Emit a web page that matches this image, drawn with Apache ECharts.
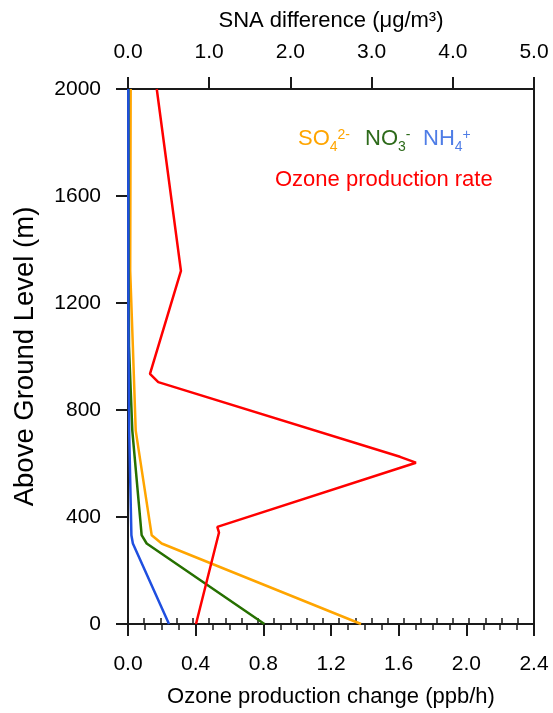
<!DOCTYPE html>
<html>
<head>
<meta charset="utf-8">
<script src="https://cdn.jsdelivr.net/npm/echarts@6/dist/echarts.min.js"></script>
<style>
html,body{margin:0;padding:0;background:#fff;}
#chart{width:553px;height:713px;}
</style>
</head>
<body>
<div id="chart"></div>
<script>
// Ozone production rate change (ppb/h), bottom axis
const o3Heights = [0, 342, 363, 603, 625, 904, 935, 1320, 2000];
const o3Values  = [0.402, 0.538, 0.528, 1.702, 1.608, 0.179, 0.130, 0.313, 0.17];

// SNA differences (ug/m3), top axis
const snaHeights = [0, 301, 332, 723, 1037, 1320, 2000];
const so4Values  = [2.87, 0.415, 0.292, 0.095, 0.06, 0.027, 0.033];
const no3Values  = [1.68, 0.23, 0.168, 0.053, 0.012, 0.008, 0.006];
const nh4Values  = [0.505, 0.06, 0.042, 0.014, 0.006, 0.004, 0.004];

// axis ticks
const bottomTicks = [0.0, 0.4, 0.8, 1.2, 1.6, 2.0, 2.4];
const topTicks = [0.0, 1.0, 2.0, 3.0, 4.0, 5.0];
const heightTicks = [0, 400, 800, 1200, 1600, 2000];

const FONT = "'Liberation Sans', Arial, Helvetica, sans-serif";
const AX = '#1a1a1a';

function pairs(xs, ys) { return xs.map((x, i) => [x, ys[i]]); }

const chart = echarts.init(document.getElementById('chart'), null, {renderer: 'canvas'});

const axisCommon = {
  axisLine: {show: true, onZero: false, lineStyle: {color: AX, width: 2}},
  splitLine: {show: false},
  axisLabel: {color: '#000', fontSize: 21, fontFamily: FONT}
};

function minorAxis(position, max, interval) {
  return {
    type: 'value', position: position, min: 0, max: max, interval: interval,
    axisLine: {show: false},
    axisTick: {show: true, inside: false, length: 6, lineStyle: {color: AX, width: 1.5}},
    axisLabel: {show: false}, splitLine: {show: false}
  };
}

const option = {
  backgroundColor: '#fff',
  animation: false,
  grid: {left: 128, right: 19, top: 89, bottom: 82, containLabel: false},
  xAxis: [
    Object.assign({}, axisCommon, {
      type: 'value', position: 'bottom',
      min: bottomTicks[0], max: bottomTicks[bottomTicks.length - 1], interval: 0.4,
      axisTick: {show: true, inside: false, length: 12, lineStyle: {color: AX, width: 2}},
      axisLabel: Object.assign({}, axisCommon.axisLabel, {margin: 30, formatter: v => v.toFixed(1)}),
      name: 'Ozone production change (ppb/h)', nameLocation: 'middle', nameGap: 62,
      nameTextStyle: {color: '#000', fontSize: 22, fontFamily: FONT}
    }),
    Object.assign({}, axisCommon, {
      type: 'value', position: 'top',
      min: topTicks[0], max: topTicks[topTicks.length - 1], interval: 1,
      axisTick: {show: true, inside: false, length: 12, lineStyle: {color: AX, width: 2}},
      axisLabel: Object.assign({}, axisCommon.axisLabel, {margin: 26, formatter: v => v.toFixed(1)}),
      name: 'SNA difference (μg/m³)', nameLocation: 'middle', nameGap: 57,
      nameTextStyle: {color: '#000', fontSize: 22, fontFamily: FONT}
    }),
    minorAxis('bottom', bottomTicks[bottomTicks.length - 1], 0.1),
    minorAxis('top', topTicks[topTicks.length - 1], 0.2)
  ],
  yAxis: [
    Object.assign({}, axisCommon, {
      type: 'value', position: 'left',
      min: heightTicks[0], max: heightTicks[heightTicks.length - 1], interval: 400,
      axisTick: {show: true, inside: false, length: 12, lineStyle: {color: AX, width: 2}},
      axisLabel: Object.assign({}, axisCommon.axisLabel, {margin: 27, formatter: v => String(v)}),
      name: 'Above Ground Level (m)', nameLocation: 'middle', nameGap: 89, nameRotate: 90,
      nameTextStyle: {color: '#000', fontSize: 27.5, fontFamily: FONT}
    }),
    {
      type: 'value', position: 'right',
      min: heightTicks[0], max: heightTicks[heightTicks.length - 1],
      axisLine: {show: true, onZero: false, lineStyle: {color: AX, width: 2}},
      axisTick: {show: false}, axisLabel: {show: false}, splitLine: {show: false}
    }
  ],
  series: [
    {
      name: 'SO4', type: 'line', xAxisIndex: 1, yAxisIndex: 0,
      data: pairs(so4Values, snaHeights), symbol: 'none',
      lineStyle: {color: '#FFA500', width: 2.5}, z: 3
    },
    {
      name: 'NO3', type: 'line', xAxisIndex: 1, yAxisIndex: 0,
      data: pairs(no3Values, snaHeights), symbol: 'none',
      lineStyle: {color: '#267000', width: 2.5}, z: 4
    },
    {
      name: 'NH4', type: 'line', xAxisIndex: 1, yAxisIndex: 0,
      data: pairs(nh4Values, snaHeights), symbol: 'none',
      lineStyle: {color: '#1F4FE0', width: 2.5}, z: 5
    },
    {
      name: 'Ozone', type: 'line', xAxisIndex: 0, yAxisIndex: 0,
      data: pairs(o3Values, o3Heights), symbol: 'none',
      lineStyle: {color: '#FF0000', width: 2.5}, z: 6
    }
  ],
  graphic: [
    {
      type: 'text', x: 298, y: 139,
      style: {
        text: '{m|SO}{s|4}{p|2-}', verticalAlign: 'middle', align: 'left',
        rich: {
          m: {fontSize: 22, fontFamily: FONT, fill: '#FFA500', lineHeight: 30, verticalAlign: 'middle'},
          s: {fontSize: 14, fontFamily: FONT, fill: '#FFA500', lineHeight: 14, verticalAlign: 'bottom'},
          p: {fontSize: 14, fontFamily: FONT, fill: '#FFA500', lineHeight: 14, verticalAlign: 'top', padding: [4, 0, 0, 0]}
        }
      }
    },
    {
      type: 'text', x: 365, y: 139,
      style: {
        text: '{m|NO}{s|3}{p|-}', verticalAlign: 'middle', align: 'left',
        rich: {
          m: {fontSize: 22, fontFamily: FONT, fill: '#2D6A1A', lineHeight: 30, verticalAlign: 'middle'},
          s: {fontSize: 14, fontFamily: FONT, fill: '#2D6A1A', lineHeight: 14, verticalAlign: 'bottom'},
          p: {fontSize: 14, fontFamily: FONT, fill: '#2D6A1A', lineHeight: 14, verticalAlign: 'top', padding: [4, 0, 0, 0]}
        }
      }
    },
    {
      type: 'text', x: 423, y: 139,
      style: {
        text: '{m|NH}{s|4}{p|+}', verticalAlign: 'middle', align: 'left',
        rich: {
          m: {fontSize: 22, fontFamily: FONT, fill: '#4F7DE6', lineHeight: 30, verticalAlign: 'middle'},
          s: {fontSize: 14, fontFamily: FONT, fill: '#4F7DE6', lineHeight: 14, verticalAlign: 'bottom'},
          p: {fontSize: 14, fontFamily: FONT, fill: '#4F7DE6', lineHeight: 14, verticalAlign: 'top', padding: [4, 0, 0, 0]}
        }
      }
    },
    {
      type: 'text', x: 275, y: 180,
      style: {
        text: 'Ozone production rate', verticalAlign: 'middle', align: 'left',
        fontSize: 22, fontFamily: FONT, fill: '#FF0000'
      }
    }
  ]
};

chart.setOption(option);
</script>
</body>
</html>
